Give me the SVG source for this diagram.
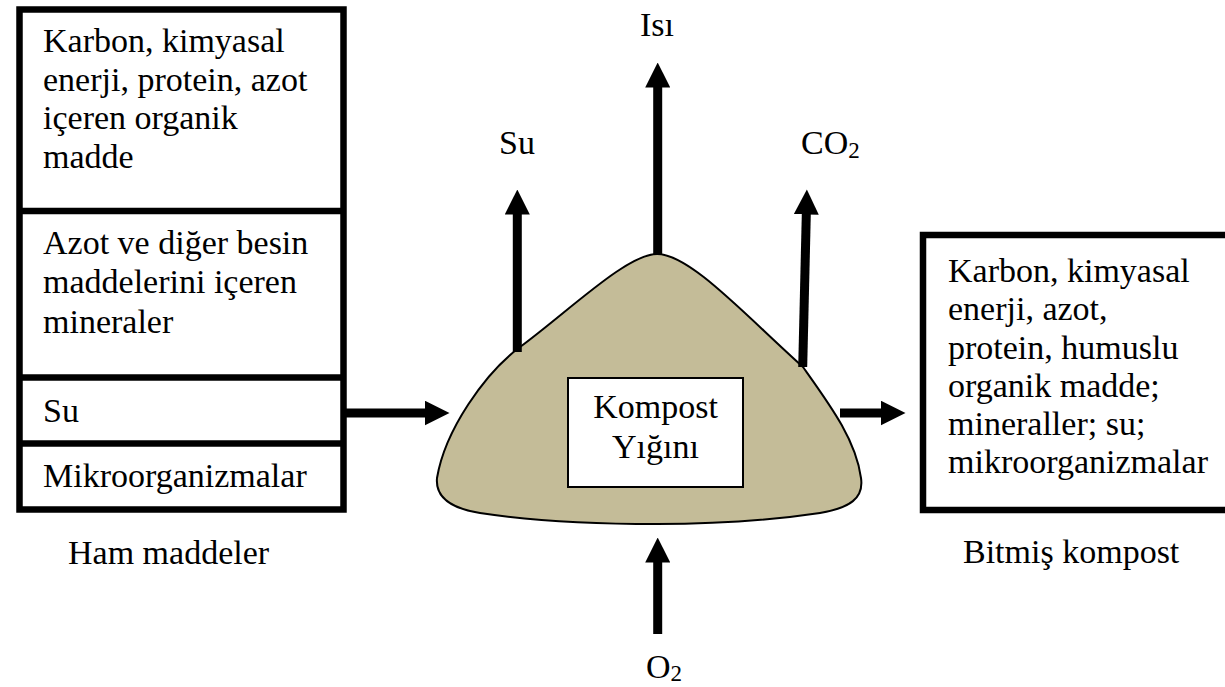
<svg xmlns="http://www.w3.org/2000/svg" width="1225" height="687" viewBox="0 0 1225 687">
<style>
text{font-family:"Liberation Serif","Times New Roman",serif;font-size:34px;fill:#000}
.sub{font-size:23px}
.box{fill:#fff;stroke:#000;stroke-width:6.5}
.div{stroke:#000;stroke-width:6.5}
.arr{stroke:#000;stroke-width:9;fill:none;marker-end:url(#ah)}
</style>
<defs>
<marker id="ah" viewBox="0 0 25 25" refX="0.5" refY="12.5" markerWidth="25" markerHeight="25" markerUnits="userSpaceOnUse" orient="auto">
<path d="M0,0 L25,12.5 L0,25 Z" fill="#000"/>
</marker>
</defs>
<g id="ham-maddeler">
<rect class="box" x="19.5" y="9.5" width="324" height="500"/>
<line class="div" x1="19.5" y1="211" x2="343.5" y2="211"/>
<line class="div" x1="19.5" y1="377.5" x2="343.5" y2="377.5"/>
<line class="div" x1="19.5" y1="443.5" x2="343.5" y2="443.5"/>
<text x="43" y="52">Karbon, kimyasal</text>
<text x="43" y="90.5">enerji, protein, azot</text>
<text x="43" y="129">içeren organik</text>
<text x="43" y="167.5">madde</text>
<text x="43" y="254.3">Azot ve diğer besin</text>
<text x="43" y="293.3">maddelerini içeren</text>
<text x="43" y="332.5">mineraler</text>
<text x="43" y="421.5">Su</text>
<text x="43" y="487">Mikroorganizmalar</text>
</g>
<g id="label-ham"><text x="68" y="564">Ham maddeler</text></g>
<g id="yigin">
<path d="M657,254 C627,254 570,310 520,347 C485,373 445,430 437,478 C435,500 455,509 480,513 C540,522 610,524 657,524 C720,524 780,519 820,513 C850,508 864,498 861,478 C856,440 830,405 803,367 C745,315 690,254 657,254 Z" fill="#c4bc98" stroke="#000" stroke-width="2"/>
<rect x="568" y="378" width="175" height="109" fill="#fff" stroke="#000" stroke-width="2"/>
<text x="655.5" y="418" text-anchor="middle">Kompost</text>
<text x="655.5" y="458" text-anchor="middle">Yığını</text>
</g>
<g id="bitmis-kompost">
<rect class="box" x="923" y="235" width="320" height="275" stroke-width="7"/>
<text x="948" y="281.7">Karbon, kimyasal</text>
<text x="948" y="320">enerji, azot,</text>
<text x="948" y="358.5">protein, humuslu</text>
<text x="948" y="396.8">organik madde;</text>
<text x="948" y="435">mineraller; su;</text>
<text x="948" y="473.3">mikroorganizmalar</text>
</g>
<g id="label-bitmis"><text x="963" y="563">Bitmiş kompost</text></g>
<g id="labels">
<text x="657" y="36" text-anchor="middle">Isı</text>
<text x="517" y="154" text-anchor="middle">Su</text>
<text x="801" y="154">CO<tspan class="sub" dy="4">2</tspan></text>
<text x="646" y="678">O<tspan class="sub" dy="3">2</tspan></text>
</g>
<g id="connectors">
<line class="arr" x1="657.7" y1="254" x2="657.7" y2="87"/>
<line class="arr" x1="517.3" y1="352" x2="517.3" y2="214"/>
<line class="arr" x1="802.7" y1="367" x2="806.3" y2="214"/>
<line class="arr" x1="657.7" y1="634" x2="657.7" y2="562"/>
<line class="arr" x1="346" y1="413" x2="425" y2="413"/>
<line class="arr" x1="840" y1="413" x2="881" y2="413"/>
</g>
</svg>
